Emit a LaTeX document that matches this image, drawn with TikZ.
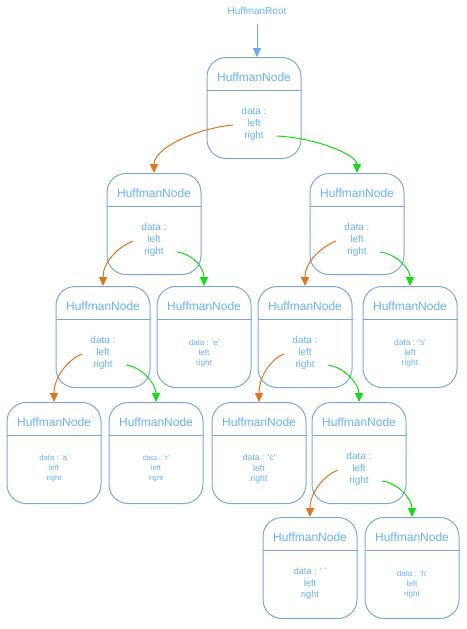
\documentclass[tikz,border=0pt]{standalone}
\usepackage{fontspec}
\setmainfont{Liberation Sans}
\usetikzlibrary{arrows.meta}
\definecolor{boxc}{HTML}{7EA6E0}
\definecolor{txtc}{HTML}{66B2FF}
\definecolor{rarc}{HTML}{6AA8F0}
\definecolor{orc}{HTML}{E6731A}
\definecolor{grc}{HTML}{11DD11}
\tikzset{
  hbox/.style={draw=boxc, line width=1pt, rounded corners=19pt, minimum width=94pt, minimum height=101pt, inner sep=0pt},
  htitle/.style={text=txtc, font=\fontsize{12}{14}\selectfont, inner sep=0pt},
  hline/.style={draw=boxc, line width=1pt},
  hbody/.style={text=txtc, align=center, inner sep=0pt},
  oarr/.style={draw=orc, line width=1pt, arrows={-{Triangle[width=8pt,length=9pt,fill=orc]}}},
  garr/.style={draw=grc, line width=1pt, arrows={-{Triangle[width=8pt,length=9pt,fill=grc]}}},
  barr/.style={draw=rarc, line width=1pt, arrows={-{Triangle[width=8pt,length=9pt,fill=rarc]}}},
  obig/.style={to path={.. controls +(-40pt,-4pt) and +(0pt,24pt) .. (\tikztotarget) \tikztonodes}},
  gbig/.style={to path={.. controls +(40pt,-2pt) and +(0pt,18pt) .. (\tikztotarget) \tikztonodes}},
  osmall/.style={to path={.. controls +(-15pt,-6pt) and +(0pt,24pt) .. (\tikztotarget) \tikztonodes}},
  gsmall/.style={to path={.. controls +(16pt,-2pt) and +(0pt,18pt) .. (\tikztotarget) \tikztonodes}},
}
\newcommand\HNode[6]{%
  \node[hbox, anchor=north] (#1) at (#2,#3) {};
  \node[htitle] (#1-t) at ([yshift=-20pt]#1.north) {HuffmanNode};
  \draw[hline] ([yshift=-33pt]#1.north west) -- ([yshift=-33pt]#1.north east);
  \node[hbody, font=\fontsize{#5}{#6}\selectfont] (#1-b) at ([yshift=-67pt]#1.north) {#4};
  \coordinate (#1-l) at ([shift={(-21pt,-68pt)}]#1.north);
  \coordinate (#1-r) at ([shift={(23pt,-79pt)}]#1.north);
}
\newcommand\Q{\textquotesingle}
\begin{document}
\begin{tikzpicture}[x=1pt,y=-1pt]
\useasboundingbox (0,0) rectangle (466,629);
\node[text=txtc, font=\fontsize{10}{12}\selectfont, inner sep=0pt] (rootlbl) at (257,11) {HuffmanRoot};
\HNode{root}{254}{57}{data :\\left\\right}{10}{12}
\HNode{n1}{154}{173}{data :\\left\\right}{10}{12}
\HNode{n2}{357}{173}{data :\\left\\right}{10}{12}
\HNode{n3}{103}{286}{data :\\left\\right}{10}{12}
\HNode{e}{204}{286}{data : \Q e\Q\\left\\right}{8}{10}
\HNode{n4}{305}{286}{data :\\left\\right}{10}{12}
\HNode{s}{410}{286}{data : \Q s\Q\\left\\right}{8.5}{10}
\HNode{a}{54}{402}{data : \Q a\Q\\left\\right}{7.7}{10}
\HNode{r}{156}{402}{data : \Q r\Q\\left\\right}{7.3}{10}
\HNode{c}{259}{402}{data : \Q c\Q\\left\\right}{8.7}{10.5}
\HNode{n5}{359}{402}{data :\\left\\right}{10}{12}
\HNode{sp}{310}{517}{data : \Q\ \Q\\left\\right}{9.2}{11.5}
\HNode{h}{412}{517}{data : \Q h\Q\\left\\right}{8}{10}
\draw[barr] ([yshift=-9.5pt]rootlbl.south) -- (rootlbl.south |- root.north);
\draw[oarr, obig] (root-l) to (n1.north);
\draw[garr, gbig] (root-r) to (n2.north);
\draw[oarr, osmall] (n1-l) to (n3.north);
\draw[garr, gsmall] (n1-r) to (e.north);
\draw[oarr, osmall] (n2-l) to (n4.north);
\draw[garr, gsmall] (n2-r) to (s.north);
\draw[oarr, osmall] (n3-l) to (a.north);
\draw[garr, gsmall] (n3-r) to (r.north);
\draw[oarr, osmall] (n4-l) to (c.north);
\draw[garr, gsmall] (n4-r) to (n5.north);
\draw[oarr, osmall] (n5-l) to (sp.north);
\draw[garr, gsmall] (n5-r) to (h.north);
\end{tikzpicture}
\end{document}
